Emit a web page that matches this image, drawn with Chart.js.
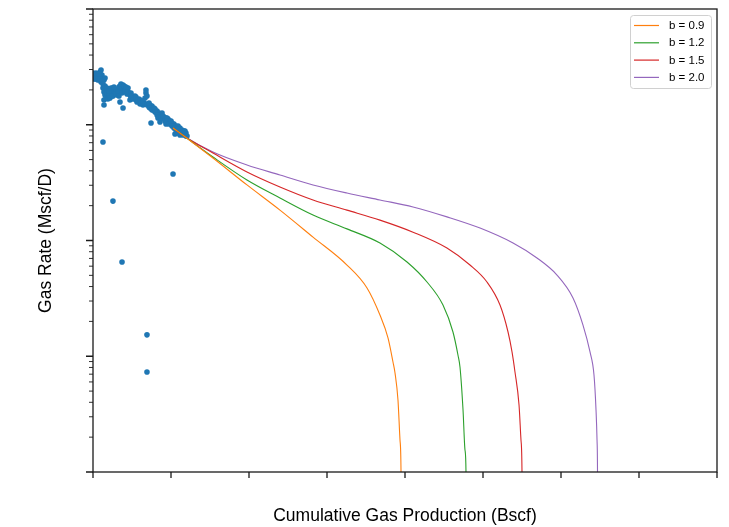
<!DOCTYPE html>
<html>
<head>
<meta charset="utf-8">
<script src="https://cdn.jsdelivr.net/npm/chart.js@4.4.1/dist/chart.umd.min.js"></script>
<style>
  html, body { margin: 0; padding: 0; background: #fff; }
  #wrap { width: 729px; height: 527px; }
</style>
</head>
<body>
<div id="wrap"><canvas id="decline" width="729" height="527"></canvas></div>
<script>
// production history: cumulative gas (Bscf) vs gas rate (Mscf/D)
var cumGas = [
  0.000, 0.013, 0.026, 0.038, 0.051, 0.064, 0.077, 0.090, 0.103, 0.103,
  0.115, 0.128, 0.128, 0.128, 0.141, 0.141, 0.141, 0.141, 0.154, 0.154,
  0.167, 0.167, 0.179, 0.192, 0.192, 0.205, 0.218, 0.218, 0.231, 0.244,
  0.256, 0.256, 0.256, 0.269, 0.282, 0.295, 0.308, 0.321, 0.333, 0.346,
  0.346, 0.359, 0.372, 0.372, 0.385, 0.385, 0.397, 0.410, 0.423, 0.436,
  0.449, 0.462, 0.474, 0.474, 0.487, 0.513, 0.538, 0.551, 0.564, 0.590,
  0.603, 0.628, 0.641, 0.654, 0.667, 0.679, 0.679, 0.692, 0.692, 0.692,
  0.705, 0.718, 0.731, 0.744, 0.744, 0.756, 0.769, 0.795, 0.808, 0.821,
  0.833, 0.833, 0.846, 0.859, 0.859, 0.872, 0.885, 0.897, 0.910, 0.923,
  0.936, 0.936, 0.949, 0.962, 0.974, 0.987, 1.000, 1.013, 1.026, 1.026,
  1.038, 1.051, 1.051, 1.064, 1.077, 1.090, 1.090, 1.103, 1.115, 1.115,
  1.128, 1.141, 1.154, 1.167, 1.179, 1.192, 1.205,
  0.000, 0.013, 0.038, 0.064, 0.077, 0.090, 0.115, 0.128, 0.154, 0.179,
  0.205, 0.231, 0.244, 0.269, 0.295, 0.321, 0.333, 0.359, 0.372, 0.397,
  0.410, 0.423, 0.436, 0.449, 0.487, 0.500, 0.526, 0.551, 0.577, 0.603,
  0.615, 0.641, 0.667, 0.692, 0.718, 0.731, 0.756, 0.782, 0.795, 0.821,
  0.846, 0.872, 0.897, 0.923, 0.949, 0.974, 1.000, 1.013, 1.038, 1.064,
  1.090, 1.128, 1.154, 1.179, 1.192
];
var gasRate = [
  2638, 2745, 2586, 2485, 2638, 2436, 2535, 2856, 2972, 2341,
  2691, 2485, 710, 2077, 2436, 1918, 1636, 1481, 2535, 1807,
  1996, 1736, 1880, 2036, 1669, 1807, 1996, 1702, 1918, 1843,
  2077, 1771, 219, 1957, 1880, 1996, 1807, 2036, 2119, 2162,
  1572, 1996, 2077, 65.2, 2205, 1395, 2036, 2119, 1918, 1996,
  2077, 1880, 1807, 1636, 1736, 1669, 1771, 1636, 1572, 1669,
  1511, 1604, 1481, 1541, 1702, 1880, 1996, 1771, 15.3, 7.31,
  1511, 1423, 1481, 1395, 1035, 1452, 1341, 1368, 1288, 1314,
  1238, 1143, 1263, 1190, 1056, 1214, 1263, 1143, 1166, 1121,
  1143, 1015, 1077, 1121, 1056, 1077, 1015, 1035, 995, 375,
  1015, 956, 832, 975, 937, 975, 848, 919, 937, 815,
  883, 901, 866, 883, 832, 848, 799,
  2800, 2485, 2800, 2638, 2745, 2485, 2388, 2250, 2162, 2077,
  1957, 2077, 1771, 2119, 1843, 1918, 1771, 2250, 1880, 2162,
  1957, 2119, 1843, 1918, 1880, 1771, 1702, 1736, 1636, 1636,
  1541, 1604, 1511, 1481, 1541, 1395, 1341, 1395, 1288, 1214,
  1166, 1143, 1190, 1077, 1143, 1015, 1077, 975, 937, 901,
  919, 848, 815, 883, 799
];

// hyperbolic forecasts, one per b-factor
var forecastLabels = ['b = 0.9', 'b = 1.2', 'b = 1.5', 'b = 2.0'];
var forecastColors = ['#ff7f0e', '#2ca02c', '#d62728', '#9467bd'];

var cumB09 = [1.026, 1.179, 1.538, 1.974, 2.397, 2.821, 3.256, 3.513, 3.679, 3.782, 3.846, 3.872, 3.910, 3.936, 3.949, 3.955];
var rateB09 = [937, 788, 516, 302, 183, 107, 61.4, 38.9, 22.7, 14.4, 8.92, 7.17, 4.19, 1.89, 1.0, 0.1];

var cumB12 = [1.026, 1.179, 1.538, 1.974, 2.397, 2.821, 3.256, 3.679, 4.026, 4.282, 4.487, 4.615, 4.679, 4.705, 4.744, 4.769, 4.782, 4.787];
var rateB12 = [937, 788, 526, 333, 233, 166, 126, 95.1, 65.2, 43.8, 27.7, 16.2, 10.25, 8.07, 3.43, 1.55, 1.0, 0.1];

var cumB15 = [1.026, 1.179, 1.538, 1.974, 2.397, 2.821, 3.256, 3.679, 4.103, 4.538, 4.833, 5.051, 5.218, 5.321, 5.372, 5.410, 5.462, 5.487, 5.500, 5.506];
var rateB15 = [937, 788, 570, 391, 290, 224, 183, 150, 118, 86.1, 61.4, 43.8, 27.7, 16.2, 10.9, 7.31, 3.79, 1.89, 1.0, 0.1];

var cumB20 = [1.026, 1.179, 1.538, 1.974, 2.397, 2.821, 3.256, 3.679, 4.103, 4.538, 4.962, 5.385, 5.692, 5.949, 6.154, 6.282, 6.372, 6.423, 6.449, 6.462, 6.468, 6.472];
var rateB20 = [937, 788, 581, 449, 368, 302, 257, 224, 195, 160, 128, 95.1, 70.6, 50.3, 31.9, 18.6, 10.9, 6.89, 3.43, 1.89, 1.0, 0.1];

// axis ticks (no labels shown on either axis)
var xTickValues = [0, 1, 2, 3, 4, 5, 6, 7, 8];
var yDecades = [1, 10, 100, 1000, 10000];

function pairUp(xs, ys) {
  return xs.map(function (x, i) { return { x: x, y: ys[i] }; });
}

function forecastDataset(i, xs, ys) {
  return {
    type: 'line',
    label: forecastLabels[i],
    data: pairUp(xs, ys),
    borderColor: forecastColors[i],
    backgroundColor: forecastColors[i],
    borderWidth: 1.1,
    pointRadius: 0,
    showLine: true,
    cubicInterpolationMode: 'monotone',
    order: 1,
    isForecast: true,
  };
}

var frameAndTicks = {
  id: 'frameAndTicks',
  afterDraw: function (chart) {
    var ctx = chart.ctx;
    var a = chart.chartArea;
    var xs = chart.scales.x;
    var ys = chart.scales.y;
    ctx.save();
    ctx.strokeStyle = '#1a1a1a';
    ctx.lineWidth = 1.3;
    ctx.strokeRect(a.left, a.top, a.right - a.left, a.bottom - a.top);

    ctx.beginPath();
    xTickValues.forEach(function (v) {
      var px = xs.getPixelForValue(v);
      ctx.moveTo(px, a.bottom);
      ctx.lineTo(px, a.bottom + 6);
    });
    yDecades.forEach(function (d) {
      var py = ys.getPixelForValue(d);
      ctx.moveTo(a.left - 7, py);
      ctx.lineTo(a.left, py);
    });
    ctx.stroke();

    ctx.lineWidth = 0.9;
    ctx.beginPath();
    yDecades.slice(0, -1).forEach(function (d) {
      for (var m = 2; m <= 9; m++) {
        var py = ys.getPixelForValue(d * m);
        ctx.moveTo(a.left - 4, py);
        ctx.lineTo(a.left, py);
      }
    });
    ctx.stroke();
    ctx.restore();
  }
};

var boxLegend = {
  id: 'boxLegend',
  afterDraw: function (chart) {
    var ctx = chart.ctx;
    var a = chart.chartArea;
    var items = chart.data.datasets.filter(function (ds) { return ds.isForecast; });
    var w = 81, h = 73;
    var left = a.right - 6 - w;
    var top = a.top + 6;
    ctx.save();
    ctx.fillStyle = 'rgba(255,255,255,0.8)';
    ctx.strokeStyle = '#d0d0d0';
    ctx.lineWidth = 1;
    ctx.beginPath();
    ctx.roundRect(left + 0.5, top + 0.5, w, h, 3);
    ctx.fill();
    ctx.stroke();
    ctx.font = '11.5px "Liberation Sans", Arial, sans-serif';
    ctx.textBaseline = 'middle';
    ctx.fillStyle = '#000';
    items.forEach(function (ds, i) {
      var y = top + 10.5 + i * 17.3;
      ctx.strokeStyle = ds.borderColor;
      ctx.lineWidth = 1.2;
      ctx.beginPath();
      ctx.moveTo(left + 4, y);
      ctx.lineTo(left + 29, y);
      ctx.stroke();
      ctx.fillText(ds.label, left + 39, y + 0.5);
    });
    ctx.restore();
  }
};

var titleFont = { family: '"Liberation Sans", Arial, sans-serif', size: 17.5 };

new Chart(document.getElementById('decline'), {
  type: 'scatter',
  data: {
    datasets: [
      {
        label: 'history',
        data: pairUp(cumGas, gasRate),
        backgroundColor: '#1f77b4',
        borderColor: '#1f77b4',
        pointRadius: 2.8,
        pointBorderWidth: 0,
        order: 5,
      },
      forecastDataset(0, cumB09, rateB09),
      forecastDataset(1, cumB12, rateB12),
      forecastDataset(2, cumB15, rateB15),
      forecastDataset(3, cumB20, rateB20),
    ],
  },
  options: {
    responsive: false,
    animation: false,
    devicePixelRatio: 1,
    layout: { padding: { top: 9, right: 12, left: 0, bottom: 0 } },
    plugins: {
      legend: { display: false },
      tooltip: { enabled: false },
    },
    scales: {
      x: {
        type: 'linear',
        min: 0,
        max: 8,
        grid: { display: false },
        border: { display: false },
        ticks: { display: false },
        title: {
          display: true,
          text: 'Cumulative Gas Production (Bscf)',
          color: '#000',
          font: titleFont,
          padding: { top: 0, bottom: 0 },
        },
        afterFit: function (scale) { scale.height = 55; },
      },
      y: {
        type: 'logarithmic',
        min: 1,
        max: 10000,
        grid: { display: false },
        border: { display: false },
        ticks: { display: false },
        title: {
          display: true,
          text: 'Gas Rate (Mscf/D)',
          color: '#000',
          font: titleFont,
          padding: { top: 36, bottom: 0 },
        },
        afterFit: function (scale) { scale.width = 93; },
      },
    },
  },
  plugins: [frameAndTicks, boxLegend],
});
</script>
</body>
</html>
